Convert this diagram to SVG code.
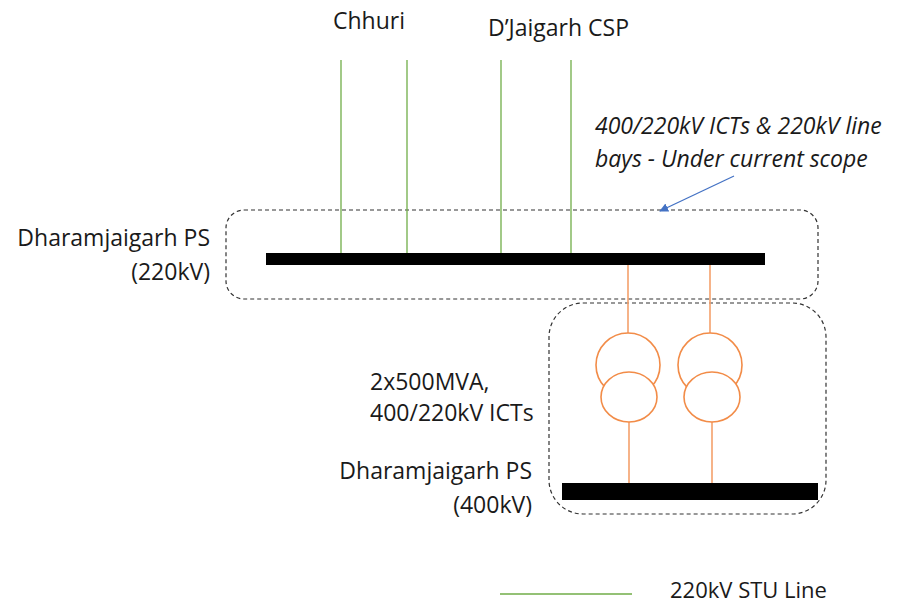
<svg xmlns="http://www.w3.org/2000/svg" width="918" height="606" viewBox="0 0 918 606">
<style>
text{font-family:"Open Sans","Liberation Sans",sans-serif;font-size:23px;fill:#1a1a1a}
.it{font-style:italic}
.r{text-anchor:end}
.box{fill:none;stroke:#333;stroke-width:1.2;stroke-dasharray:4 3}
.bus{fill:#000}
.g{stroke:#70ad47;stroke-width:1.3;fill:none}
.o{stroke:#f4a06b;stroke-width:1.6;fill:none}
.oc{stroke:#f28c48;stroke-width:1.6;fill:#fff}
</style>
<defs>
<marker id="ah" viewBox="0 0 10 10" refX="9" refY="5" markerWidth="9" markerHeight="9" markerUnits="userSpaceOnUse" orient="auto">
<path d="M0,0 L10,5 L0,10 z" fill="#4472c4"/>
</marker>
</defs>
<rect fill="#fff" width="918" height="606"/>
<g id="scope220" >
<rect class="box" x="226" y="210" width="592" height="89" rx="18"/>
</g>
<g id="scope400">
<rect class="box" x="549" y="303" width="277" height="211" rx="34"/>
</g>
<g id="connectors">
<line class="g" x1="341" y1="60" x2="341" y2="253"/>
<line class="g" x1="407" y1="60" x2="407" y2="253"/>
<line class="g" x1="501" y1="60" x2="501" y2="253"/>
<line class="g" x1="571" y1="60" x2="571" y2="253"/>
<line class="o" x1="628" y1="265" x2="628" y2="333"/>
<line class="o" x1="710" y1="265" x2="710" y2="333"/>
<line class="o" x1="629" y1="422" x2="629" y2="483"/>
<line class="o" x1="712" y1="422" x2="712" y2="483"/>
<line x1="734" y1="176" x2="660" y2="211" stroke="#4472c4" stroke-width="1.3" marker-end="url(#ah)"/>
</g>
<g id="bus220">
<rect class="bus" x="266" y="253" width="499" height="12"/>
<text class="r" x="210" y="246">Dharamjaigarh PS</text>
<text class="r" x="210" y="280">(220kV)</text>
</g>
<g id="bus400">
<rect class="bus" x="562" y="483" width="256" height="17"/>
<text class="r" x="532" y="479">Dharamjaigarh PS</text>
<text class="r" x="532" y="513">(400kV)</text>
</g>
<g id="ict1">
<circle class="oc" cx="628" cy="365" r="32"/>
<ellipse class="oc" cx="629" cy="397" rx="28" ry="25"/>
</g>
<g id="ict2">
<circle class="oc" cx="710" cy="365" r="32"/>
<ellipse class="oc" cx="712" cy="397" rx="28" ry="25"/>
</g>
<g id="ict-label">
<text x="370" y="390">2x500MVA,</text>
<text x="370" y="421">400/220kV ICTs</text>
</g>
<g id="chhuri"><text x="333" y="29">Chhuri</text></g>
<g id="djaigarh"><text x="488" y="36">D’Jaigarh CSP</text></g>
<g id="note">
<text class="it" x="595" y="134">400/220kV ICTs &amp; 220kV line</text>
<text class="it" x="595" y="167">bays - Under current scope</text>
</g>
<g id="legend">
<line class="g" x1="500" y1="594" x2="632" y2="594"/>
<text x="670" y="598" style="font-size:22px">220kV STU Line</text>
</g>
</svg>
